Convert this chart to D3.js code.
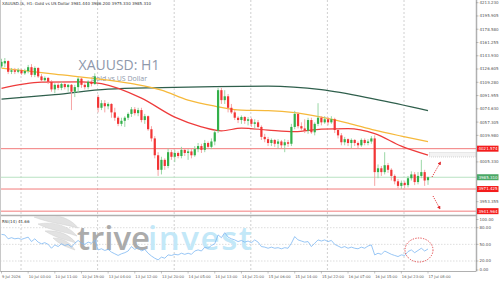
<!DOCTYPE html>
<html><head><meta charset="utf-8">
<script src="https://cdn.jsdelivr.net/npm/d3@7/dist/d3.min.js"></script>
<style>body{margin:0;background:#fff;overflow:hidden}svg{display:block}</style>
</head><body>
<svg id="c" width="500" height="281"></svg>
<script>
// ---------- DATA ----------
const headerText = "XAUUSD.tk, H1:  Gold vs US Dollar  3981.440 3986.200 3975.330 3985.310";
const titleText = "XAUUSD: H1";
const subtitleText = "Gold vs US Dollar";
const rsiLabel = "RSI(14) 41.66";

const open = [4130,4134,4137,4123,4125,4123,4125,4121,4124,4129,
 4119,4128,4117,4112,4115,4110,4100,4106,4102,4107,
 4103,4106,4097,4103,4114,4106,4103,4110,4107,4090,
 4076,4082,4078,4081,4070,4063,4055,4059,4063,4068,
 4074,4069,4073,4060,4065,4048,4036,4014,3995,4008,
 4000,4018,4012,4017,4013,4021,4017,4019,4014,4022,
 4026,4021,4030,4025,4032,4046,4099,4086,4091,4076,
 4070,4063,4060,4064,4059,4061,4055,4057,4051,4038,
 4035,4030,4034,4029,4032,4027,4031,4029,4051,4068,
 4052,4049,4046,4060,4044,4055,4063,4057,4061,4057,
 4061,4047,4040,4031,4035,4030,4034,4030,4027,4034,
 4030,4032,4036,3992,3997,3992,4001,3995,3987,3980,
 3974,3978,3975,3984,3989,3979,3987,3992,3981.44];
const high = [4140,4141,4138,4128,4128,4128,4127,4127,4132,4133,
 4130,4129,4120,4117,4116,4112,4108,4108,4110,4108,
 4107,4107,4106,4116,4115,4108,4112,4112,4121,4093,
 4086,4086,4083,4082,4076,4065,4063,4065,4070,4077,
 4077,4076,4076,4068,4066,4052,4039,4018,4012,4010,
 4023,4021,4021,4019,4025,4023,4022,4022,4026,4030,
 4029,4034,4032,4036,4047,4102,4102,4099,4094,4081,
 4073,4065,4066,4065,4064,4063,4061,4060,4053,4042,
 4038,4036,4035,4035,4034,4035,4034,4055,4072,4070,
 4057,4061,4063,4063,4057,4082,4065,4065,4064,4065,
 4063,4049,4043,4038,4036,4036,4035,4032,4036,4036,
 4035,4039,4040,4002,4000,4018,4004,3997,3989,3983,
 3981,3980,3987,3993,3992,3992,4008,3995,3986.2];
const low = [4128,4129,4120,4120,4120,4121,4119,4119,4121,4116,
 4116,4115,4110,4110,4107,4097,4095,4099,4099,4100,
 4097,4073,4090,4095,4102,4100,4100,4104,4106,4070,
 4073,4070,4074,4063,4059,4052,4052,4051,4060,4064,
 4066,4065,4057,4055,4046,4032,4010,3987,3989,3995,
 3997,4008,4005,4010,4010,4013,4008,4010,4012,4018,
 4017,4018,4022,4022,4027,4043,4081,4081,4070,4068,
 4060,4056,4055,4055,4053,4051,4049,4048,4034,4031,
 4026,4026,4025,4023,4023,4018,4025,4026,4048,4049,
 4046,4043,4042,4042,4040,4052,4053,4055,4053,4055,
 4043,4036,4027,4027,4026,4023,4026,4023,4025,4027,
 4027,4029,3974,3984,3987,3989,3991,3981,3976,3971,
 3970,3971,3972,3981,3975,3976,3984,3974,3975.33];
const close = [4136,4137,4123,4125,4123,4125,4121,4124,4129,4119,
 4128,4117,4112,4115,4110,4100,4106,4102,4107,4103,
 4106,4097,4103,4114,4106,4103,4110,4107,4117,4076,
 4082,4078,4081,4070,4063,4055,4059,4063,4068,4074,
 4069,4073,4060,4065,4048,4036,4014,3995,4008,4000,
 4018,4012,4017,4013,4021,4017,4019,4014,4022,4026,
 4021,4030,4025,4032,4044,4099,4086,4091,4076,4070,
 4063,4060,4064,4059,4061,4055,4057,4051,4038,4035,
 4030,4034,4029,4032,4027,4031,4029,4051,4068,4052,
 4049,4046,4060,4044,4055,4063,4057,4061,4057,4061,
 4047,4040,4031,4035,4030,4034,4030,4027,4034,4030,
 4032,4036,3992,3997,3992,4001,3995,3987,3980,3974,
 3978,3975,3984,3989,3979,3987,3992,3981,3985.31];

// moving averages (bar index, price)
const maSlowIdx = [0,16,32,48,64,80,96,112,128];
const maSlow = [4087.3,4093.2,4100.4,4102.4,4103.7,4104.3,4099.7,4087.3,4072.3];
const maMidIdx = [0,16,32,40,48,56,64,72,80,88,96,104,112,120,128];
const maMid = [4127.9,4120.0,4112.2,4106.9,4099.1,4086.0,4078.2,4072.9,4072.3,4069.7,4063.8,4056.0,4046.8,4039.0,4031.7];
const maFastIdx = [0,12,24,30,42,52,60,66,72,80,88,96,104,112,120,128];
const maFast = [4101.3,4109.5,4109.9,4107.6,4088.6,4063.8,4051.1,4045.9,4049.4,4046.8,4044.8,4048.1,4048.7,4042.2,4025.9,4014.1];

const rsi = [68,67,60,62,60,61,59,61,63,55,
 60,54,51,53,50,43,49,46,51,48,
 50,45,52,57,52,50,54,52,58,40,
 42,39,41,36,33,30,33,35,38,46,
 41,44,38,41,34,29,25,22,27,25,
 31,30,32,31,34,32,34,32,38,40,
 38,45,43,48,51,67,62,71,63,60,
 58,55,57,54,56,53,58,54,46,45,
 43,45,43,44,42,44,43,52,64,58,
 56,54,55,46,52,58,56,58,55,57,
 50,47,44,46,43,45,43,42,45,43,
 47,49,31,34,32,38,35,32,30,28,
 31,30,37,40,35,39,43,38,41.66];

const timeLabels = ["9 Jul 2026","10 Jul 03:00","10 Jul 11:00","10 Jul 19:00","13 Jul 04:00","13 Jul 12:00","13 Jul 20:00","14 Jul 05:00","14 Jul 13:00","14 Jul 21:00","15 Jul 06:00","15 Jul 14:00","15 Jul 22:00","16 Jul 07:00","16 Jul 15:00","16 Jul 23:00","17 Jul 08:00"];
const timeLabelIdx = [0,8,16,24,32,40,48,56,64,72,80,88,96,104,112,120,128];
const priceTicks = [4213.230,4195.905,4178.580,4161.255,4143.930,4126.605,4109.280,4091.955,4074.630,4057.305,4039.980,4005.330,3953.355];
const rsiTicks = [100,80,50,20,0];
const levelValues = [4022.6,3969.9,3941.0];
const levelLabels = ["4021.574","3971.425","3941.964"];
const lastPrice = 3985.31;

// ---------- DRAW ----------
const svg = d3.select("#c");
const R = 476, MAIN_B = 215, RSI_T = 216.5, RSI_B = 271.5;
const x = d3.scaleLinear().domain([0,128]).range([1.5,428]);
const y = d3.scaleLinear().domain([3953.355,4213.23]).range([201.7,2.7]);
const yr = d3.scaleLinear().domain([0,100]).range([272.1,216.6]);
const font = "'DejaVu Sans', Arial, sans-serif";

svg.append("rect").attr("width",500).attr("height",281).attr("fill","#fff");
const defs = svg.append("defs");
defs.append("clipPath").attr("id","cm").append("rect").attr("x",0).attr("y",0).attr("width",R).attr("height",MAIN_B);
defs.append("clipPath").attr("id","cr").append("rect").attr("x",0).attr("y",RSI_T).attr("width",R).attr("height",RSI_B-RSI_T);

// vertical grid
const gx = d3.range(6).map(k => 21 + k*76.6);
svg.append("g").selectAll("line").data(gx).join("line")
  .attr("x1",d=>d).attr("x2",d=>d).attr("y1",0).attr("y2",RSI_B)
  .attr("stroke","#c4c4c4").attr("stroke-width",0.8).attr("stroke-dasharray","2,2");

// RSI level grid
svg.append("g").selectAll("line").data([80,50,20]).join("line")
  .attr("x1",0).attr("x2",R).attr("y1",d=>yr(d)).attr("y2",d=>yr(d))
  .attr("stroke","#cfcfcf").attr("stroke-width",0.7).attr("stroke-dasharray","1.5,1.5");

// watermark
const wm = svg.append("g").attr("clip-path","url(#cr)");
const wing = wm.append("g").attr("fill","#e2e2e2").attr("stroke","#cfcfcf").attr("stroke-width",0.5);
wing.append("path").attr("d","M34,217 C52,212 70,217 78,228 C64,224 49,223 34,217Z");
wing.append("path").attr("d","M38,224 C54,221 69,226 77,236 C62,231 49,230 38,224Z");
wing.append("path").attr("d","M45,231 C58,230 69,234 76,243 C63,239 54,237 45,231Z");
wing.append("path").attr("d","M53,238 C62,238 70,242 75,250 C67,247 60,245 53,238Z");
wm.append("text").attr("x",77).attr("y",250).attr("font-family","'Open Sans',sans-serif")
  .attr("font-size",33).attr("font-weight",600).attr("fill","#a0a0a0").attr("opacity",0.88).text("trive");
wm.append("text").attr("x",148).attr("y",250).attr("font-family","'Open Sans',sans-serif")
  .attr("font-size",33).attr("font-weight",600).attr("letter-spacing",1.6).attr("fill","#c3e8f8").text("invest");

// title watermark
svg.append("text").attr("x",119).attr("y",70).attr("text-anchor","middle")
  .attr("font-family","'Open Sans',sans-serif").attr("font-size",14).attr("fill","#8e98ab").text(titleText);
svg.append("text").attr("x",119).attr("y",81).attr("text-anchor","middle")
  .attr("font-family","'Open Sans',sans-serif").attr("font-size",7).attr("fill","#8e98ab").text(subtitleText);

const main = svg.append("g").attr("clip-path","url(#cm)");
// horizontal levels
main.selectAll("line.lv").data(levelValues).join("line").attr("class","lv")
  .attr("x1",0).attr("x2",R).attr("y1",d=>y(d)).attr("y2",d=>y(d))
  .attr("stroke","#f27b7b").attr("stroke-width",1);
main.append("line").attr("x1",0).attr("x2",R).attr("y1",y(lastPrice)).attr("y2",y(lastPrice))
  .attr("stroke","#b9e2c2").attr("stroke-width",1.2);

// moving averages
const mkLine = (idx, vals, col, w) => main.append("path")
  .attr("d", d3.line().x((d,i)=>x(idx[i])).y(d=>y(d)).curve(d3.curveMonotoneX)(vals))
  .attr("fill","none").attr("stroke",col).attr("stroke-width",w);
mkLine(maSlowIdx, maSlow, "#2f5f4c", 1.3);
mkLine(maMidIdx, maMid, "#f6b93b", 1.2);
mkLine(maFastIdx, maFast, "#ee3b3b", 1.2);

// candles
const bars = d3.range(close.length).map(i=>({i,o:open[i],h:high[i],l:low[i],c:close[i]}));
const cg = main.append("g");
cg.selectAll("line").data(bars).join("line")
  .attr("x1",d=>x(d.i)).attr("x2",d=>x(d.i)).attr("y1",d=>y(d.h)).attr("y2",d=>y(d.l))
  .attr("stroke",d=>d.c>=d.o?"#8fd39c":"#f59a9a").attr("stroke-width",0.9);
cg.selectAll("rect").data(bars).join("rect")
  .attr("x",d=>x(d.i)-1.1).attr("width",2.2)
  .attr("y",d=>y(Math.max(d.o,d.c)))
  .attr("height",d=>Math.max(0.9, y(Math.min(d.o,d.c))-y(Math.max(d.o,d.c))))
  .attr("fill",d=>d.c>=d.o?"#33b04a":"#f23535");

// gray dashed box (drawing object)
svg.append("rect").attr("x",429.5).attr("y",152.5).attr("width",46).attr("height",4.5)
  .attr("fill","#f3f3f3").attr("stroke","#bdbdbd").attr("stroke-width",0.6).attr("stroke-dasharray","1,1");

// red arrows
defs.append("marker").attr("id","ah").attr("viewBox","0 0 6 6").attr("refX",3).attr("refY",3)
  .attr("markerWidth",4).attr("markerHeight",4).attr("orient","auto")
  .append("path").attr("d","M0,0 L6,3 L0,6Z").attr("fill","#e0262a");
svg.append("line").attr("x1",432).attr("y1",177).attr("x2",440).attr("y2",163)
  .attr("stroke","#e0262a").attr("stroke-width",0.9).attr("stroke-dasharray","1.2,1.2").attr("marker-end","url(#ah)");
svg.append("line").attr("x1",433).attr("y1",196).attr("x2",439.5).attr("y2",208)
  .attr("stroke","#e0262a").attr("stroke-width",0.9).attr("stroke-dasharray","1.2,1.2").attr("marker-end","url(#ah)");

// RSI line
svg.append("g").attr("clip-path","url(#cr)").append("path")
  .attr("d", d3.line().x((d,i)=>x(i)).y(d=>yr(d))(rsi))
  .attr("fill","none").attr("stroke","#7db7f2").attr("stroke-width",0.8);
svg.append("ellipse").attr("cx",419).attr("cy",250).attr("rx",14).attr("ry",12)
  .attr("fill","none").attr("stroke","#e0393b").attr("stroke-width",0.9).attr("stroke-dasharray","1.3,1.3");

// frames
svg.append("line").attr("x1",0).attr("x2",R).attr("y1",MAIN_B+0.5).attr("y2",MAIN_B+0.5).attr("stroke","#b0b0b0").attr("stroke-width",1.5);
svg.append("line").attr("x1",0).attr("x2",R).attr("y1",RSI_B).attr("y2",RSI_B).attr("stroke","#b0b0b0").attr("stroke-width",1);
svg.append("line").attr("x1",0.5).attr("x2",0.5).attr("y1",0).attr("y2",RSI_B).attr("stroke","#c8c8c8").attr("stroke-width",1);
svg.append("line").attr("x1",R+0.5).attr("x2",R+0.5).attr("y1",0).attr("y2",RSI_B).attr("stroke","#b0b0b0").attr("stroke-width",1.5);

// price axis
const pa = svg.append("g").attr("font-family",font).attr("font-size",4).attr("fill","#555");
pa.selectAll("line").data(priceTicks).join("line").attr("x1",R).attr("x2",R+2.5)
  .attr("y1",d=>y(d)).attr("y2",d=>y(d)).attr("stroke","#888").attr("stroke-width",0.5);
pa.selectAll("text").data(priceTicks).join("text").attr("x",R+3.5).attr("y",d=>y(d)+1.4).text(d=>d.toFixed(3));

// level labels
const lb = svg.append("g").attr("font-family",font).attr("font-size",4);
levelValues.forEach((v,k)=>{
  lb.append("rect").attr("x",R+1).attr("y",y(v)-3).attr("width",21.5).attr("height",6).attr("fill","#f41c1c");
  lb.append("text").attr("x",R+2.5).attr("y",y(v)+1.4).attr("fill","#fff").text(levelLabels[k]);
});
lb.append("rect").attr("x",R+1).attr("y",y(lastPrice)-3).attr("width",21.5).attr("height",6).attr("fill","#4aa866");
lb.append("text").attr("x",R+2.5).attr("y",y(lastPrice)+1.4).attr("fill","#fff").text(lastPrice.toFixed(3));

// RSI axis
const ra = svg.append("g").attr("font-family",font).attr("font-size",4).attr("fill","#555");
ra.selectAll("text").data(rsiTicks).join("text").attr("x",R+3.5)
  .attr("y",d=>Math.min(Math.max(yr(d),219.5),270)+1.4).text(d=>d.toFixed(2));
ra.selectAll("line").data(rsiTicks).join("line").attr("x1",R).attr("x2",R+2.5)
  .attr("y1",d=>Math.min(Math.max(yr(d),219.5),270)).attr("y2",d=>Math.min(Math.max(yr(d),219.5),270))
  .attr("stroke","#888").attr("stroke-width",0.5);

// time axis
const ta = svg.append("g").attr("font-family",font).attr("font-size",3.7).attr("fill","#555");
ta.selectAll("line").data(timeLabelIdx).join("line").attr("x1",d=>x(d)).attr("x2",d=>x(d))
  .attr("y1",RSI_B).attr("y2",RSI_B+2).attr("stroke","#888").attr("stroke-width",0.5);
ta.selectAll("text").data(timeLabels).join("text").attr("x",(d,i)=>x(timeLabelIdx[i])+0.5).attr("y",278).text(d=>d);

// header texts
svg.append("text").attr("x",2).attr("y",5).attr("font-family",font).attr("font-size",4).attr("fill","#333").text(headerText);
svg.append("text").attr("x",2).attr("y",222.5).attr("font-family",font).attr("font-size",4).attr("fill","#333").text(rsiLabel);
</script>
</body></html>
